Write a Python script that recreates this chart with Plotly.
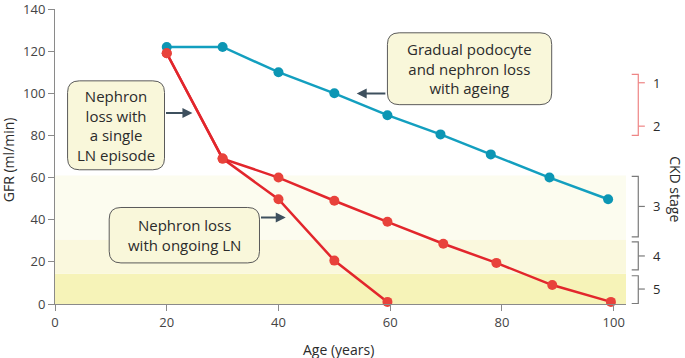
import plotly.graph_objects as go

# ---- data ----
age_ageing = [20, 30, 40, 50, 59.5, 69, 78, 88.5, 99]
gfr_ageing = [122, 122, 110, 100, 89.6, 80.5, 71, 60, 49.7]

age_single = [20, 30, 40, 50, 59.5, 69.5, 79, 89, 99.5]
gfr_single = [119, 69, 60, 49, 39, 28.6, 19.5, 9, 1]

age_ongoing = [20, 30, 40, 50, 59.5]
gfr_ongoing = [119, 69, 49.7, 20.6, 1]

x_ticks = [0, 20, 40, 60, 80, 100]
y_ticks = [0, 20, 40, 60, 80, 100, 120, 140]

# CKD stage bands (GFR ranges)
band_bounds = [(0, 14.3), (14.3, 30.6), (30.6, 61)]
band_colors = ["#f6f3b8", "#faf8dd", "#fcfcef"]

# CKD stage brackets: (labels, top, bottom, ticks, color)
stage_brackets = [
    (["1", "2"], 109, 80, [105, 84.4], "#ee8585"),
    (["3"], 60.6, 31.9, [46.3], "#7a7a7a"),
    (["4"], 29.5, 16.2, [22.8], "#7a7a7a"),
    (["5"], 13.4, 0.2, [7.1], "#7a7a7a"),
]

BLUE = "#139fbf"
BLUE_M = "#0c96b4"
RED = "#e2262c"
RED_M = "#e8423b"
FONT = "Open Sans"
TXT = "#2b2b2b"
AX = "#8a8a8a"

fig = go.Figure()

fig.add_trace(go.Scatter(x=age_ageing, y=gfr_ageing, mode="lines+markers",
                         line=dict(color=BLUE, width=2.5),
                         marker=dict(color=BLUE_M, size=10), showlegend=False,
                         cliponaxis=False))
fig.add_trace(go.Scatter(x=age_ongoing, y=gfr_ongoing, mode="lines+markers",
                         line=dict(color=RED, width=2.5),
                         marker=dict(color=RED_M, size=10), showlegend=False,
                         cliponaxis=False))
fig.add_trace(go.Scatter(x=age_single, y=gfr_single, mode="lines+markers",
                         line=dict(color=RED, width=2.5),
                         marker=dict(color=RED_M, size=10), showlegend=False,
                         cliponaxis=False))

shapes = []
XMAX = 102.2
for (y0, y1), c in zip(band_bounds, band_colors):
    shapes.append(dict(type="rect", xref="x", yref="y", x0=0, x1=XMAX, y0=y0, y1=y1,
                       fillcolor=c, line=dict(width=0), layer="below"))


def rounded(x0, x1, y0, y1, rx=2.1, ry=5.5):
    return (f"M {x0+rx},{y1} L {x1-rx},{y1} Q {x1},{y1} {x1},{y1-ry} "
            f"L {x1},{y0+ry} Q {x1},{y0} {x1-rx},{y0} L {x0+rx},{y0} "
            f"Q {x0},{y0} {x0},{y0+ry} L {x0},{y1-ry} Q {x0},{y1} {x0+rx},{y1} Z")


boxes = [
    (2.25, 19.6, 63.7, 105.9, 10.9, 84.8, "Nephron<br>loss with<br>a single<br>LN episode"),
    (59.5, 88.9, 94.6, 128.7, 74.2, 111.7, "Gradual podocyte<br>and nephron loss<br>with ageing"),
    (9.7, 36.6, 19.5, 45.8, 23.1, 32.7, "Nephron loss<br>with ongoing LN"),
]
annotations = []
for x0, x1, y0, y1, cx, cy, txt in boxes:
    shapes.append(dict(type="path", xref="x", yref="y", path=rounded(x0, x1, y0, y1),
                       fillcolor="#f9f7da", line=dict(color="#5a5a5a", width=1),
                       layer="above"))
    annotations.append(dict(x=cx, y=cy, xref="x", yref="y", text=txt, showarrow=False,
                            xanchor="center", yanchor="middle",
                            font=dict(family=FONT, size=15, color=TXT), align="center"))

arrows = [
    (19.6, 90.6, 24.6, 90.6),
    (59.4, 99.9, 54.0, 99.9),
    (36.6, 41.0, 41.3, 41.0),
]
for ax_, ay_, x_, y_ in arrows:
    annotations.append(dict(x=x_, y=y_, ax=ax_, ay=ay_, xref="x", yref="y",
                            axref="x", ayref="y", text="", showarrow=True,
                            arrowhead=2, arrowsize=1, arrowwidth=2,
                            arrowcolor="#3e505e", standoff=0, startstandoff=0))

# brackets
xa, xv, xt, xl = 1.010, 1.0215, 1.033, 1.043
for labels, top, bot, ticks, col in stage_brackets:
    shapes.append(dict(type="path", xref="paper", yref="y",
                       path=f"M {xa},{top} L {xv},{top} L {xv},{bot} L {xa},{bot}",
                       line=dict(color=col, width=1.2)))
    for lab, t in zip(labels, ticks):
        shapes.append(dict(type="line", xref="paper", yref="y", x0=xv, x1=xt, y0=t, y1=t,
                           line=dict(color=col, width=1.2)))
        annotations.append(dict(x=xl, y=t, xref="paper", yref="y", text=lab,
                                showarrow=False, xanchor="left", yanchor="middle",
                                font=dict(family=FONT, size=13, color=TXT)))

annotations.append(dict(x=1.0865, y=54.3, xref="paper", yref="y", text="CKD stage",
                        showarrow=False, textangle=90, xanchor="center", yanchor="middle",
                        font=dict(family=FONT, size=14, color=TXT)))
annotations.append(dict(x=-0.081, y=0.49, xref="paper", yref="paper", text="GFR (ml/min)",
                        showarrow=False, textangle=-90, xanchor="center", yanchor="middle",
                        font=dict(family=FONT, size=14, color=TXT)))
annotations.append(dict(x=0.497, y=-0.153, xref="paper", yref="paper", text="Age (years)",
                        showarrow=False, xanchor="center", yanchor="middle",
                        font=dict(family=FONT, size=14, color=TXT)))

fig.update_layout(
    width=685, height=358,
    margin=dict(l=55, r=59, t=8.5, b=54, pad=0, autoexpand=False),
    paper_bgcolor="white", plot_bgcolor="white",
    shapes=shapes, annotations=annotations,
    font=dict(family=FONT, color=TXT),
    xaxis=dict(range=[0, XMAX], tickvals=x_ticks, showline=True, linecolor=AX,
               linewidth=1, ticks="outside", ticklen=6, tickcolor=AX,
               showgrid=False, zeroline=False, automargin=False,
               ticklabeloverflow="allow",
               tickfont=dict(family=FONT, size=13, color="#444")),
    yaxis=dict(range=[0, 140], tickvals=y_ticks, showline=True, linecolor=AX,
               linewidth=1, ticks="outside", ticklen=6, tickcolor=AX,
               showgrid=False, zeroline=False, automargin=False,
               ticklabeloverflow="allow",
               tickfont=dict(family=FONT, size=13, color="#444")),
)

fig.write_html("out.html", config={"displayModeBar": False},
               post_script="document.body.style.margin='0px';")
